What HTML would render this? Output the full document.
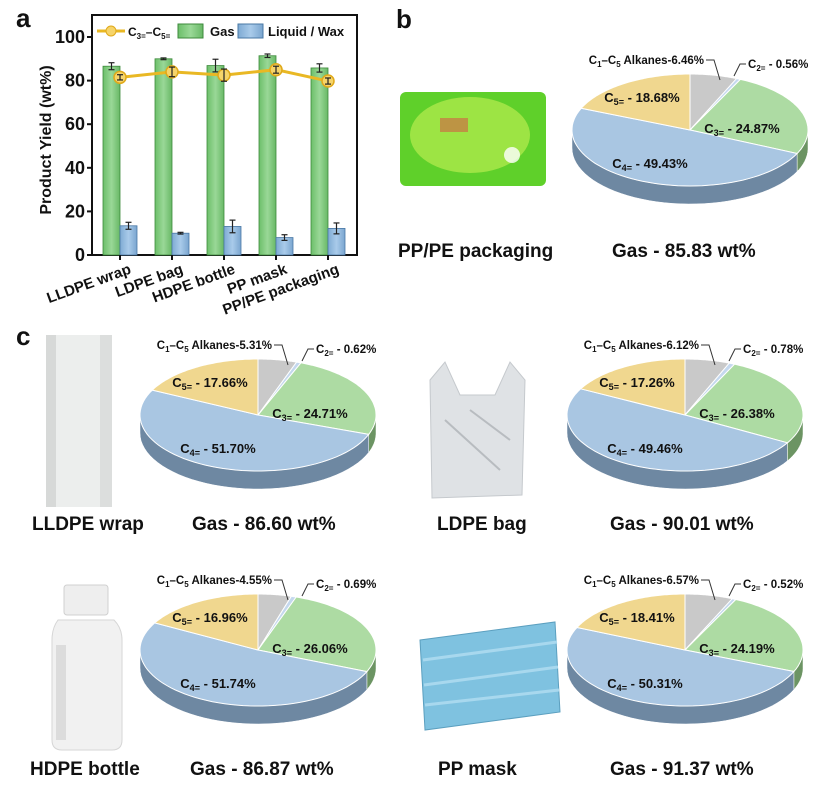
<!DOCTYPE html>
<html><head><meta charset="utf-8"><style>
body{margin:0;background:#fff;width:828px;height:798px;overflow:hidden}
svg text{font-family:"Liberation Sans",Arial,sans-serif;font-weight:bold;fill:#111}
</style></head><body>
<svg id="fig" width="828" height="798" viewBox="0 0 828 798" xmlns="http://www.w3.org/2000/svg">
<defs>
<linearGradient id="gGas" x1="0" x2="1"><stop offset="0" stop-color="#6cbf6a"/><stop offset="0.5" stop-color="#9ad897"/><stop offset="1" stop-color="#68b866"/></linearGradient>
<linearGradient id="gLiq" x1="0" x2="1"><stop offset="0" stop-color="#7eaad3"/><stop offset="0.5" stop-color="#a9cbea"/><stop offset="1" stop-color="#7aa5cf"/></linearGradient>
</defs>
<g id="panelA"></g>
<g id="pies"></g>
<g>
<text x="16" y="27" font-size="26">a</text>
<text x="396" y="28" font-size="26">b</text>
<text x="16" y="345" font-size="26">c</text>
</g>
<g>
<g>
<rect x="400" y="92" width="146" height="94" rx="6" fill="#5fd02a"/>
<ellipse cx="470" cy="135" rx="60" ry="38" fill="#b8ec50" opacity="0.7"/>
<rect x="440" y="118" width="28" height="14" fill="#d44" opacity="0.5"/>
<circle cx="512" cy="155" r="8" fill="#fff" opacity="0.8"/>
</g>
<g>
<rect x="46" y="335" width="66" height="172" rx="4" fill="#eceeed"/>
<rect x="46" y="335" width="10" height="172" fill="#d7d9d8"/>
<rect x="100" y="335" width="12" height="172" fill="#dcdedd"/>
</g>
<g>
<path d="M430 380 L445 362 L460 395 L495 395 L510 362 L525 380 L522 495 L432 498 Z" fill="#dfe2e5" stroke="#c5c9cd"/>
<path d="M445 420 L500 470 M470 410 L510 440" stroke="#b8bcc0" stroke-width="2"/>
</g>
<g>
<rect x="64" y="585" width="44" height="30" rx="3" fill="#eeeeee" stroke="#d0d0d0"/>
<path d="M58 620 Q52 628 52 640 L52 740 Q52 750 62 750 L112 750 Q122 750 122 740 L122 640 Q122 628 114 620 Z" fill="#f1f1f1" stroke="#d6d6d6"/>
<rect x="56" y="645" width="10" height="95" fill="#dcdcdc"/>
</g>
<g>
<path d="M420 640 L555 622 L560 712 L425 730 Z" fill="#7fc2e0" stroke="#5b9fbf"/>
<path d="M423 660 L557 642 M424 685 L558 667 M425 705 L559 690" stroke="#a8d8ee" stroke-width="3"/>
</g>
</g>
<g font-size="19">
<text x="398" y="257" font-size="19">PP/PE packaging</text>
<text x="612" y="257" font-size="19">Gas - 85.83 wt%</text>
<text x="32" y="530" font-size="19">LLDPE wrap</text>
<text x="192" y="530" font-size="19">Gas - 86.60 wt%</text>
<text x="437" y="530" font-size="19">LDPE bag</text>
<text x="610" y="530" font-size="19">Gas - 90.01 wt%</text>
<text x="30" y="775" font-size="19">HDPE bottle</text>
<text x="190" y="775" font-size="19">Gas - 86.87 wt%</text>
<text x="438" y="775" font-size="19">PP mask</text>
<text x="610" y="775" font-size="19">Gas - 91.37 wt%</text>
</g>
</svg>
<script>
// ---------- Panel a data ----------
const categories = ["LLDPE wrap","LDPE bag","HDPE bottle","PP mask","PP/PE packaging"];
const gasValues = [86.6, 90.0, 86.9, 91.4, 85.8];
const gasErrors = [1.6, 0.4, 2.9, 0.8, 1.9];
const liquidValues = [13.4, 10.0, 13.1, 8.0, 12.2];
const liquidErrors = [1.6, 0.4, 2.9, 1.3, 2.5];
const olefinValues = [81.5, 84.0, 82.5, 85.0, 79.8];
const olefinErrors = [1.2, 2.2, 2.8, 1.6, 1.4];
const yTicks = [0, 20, 40, 60, 80, 100];

// ---------- Pie data ----------
const pieNames = ["PP/PE packaging","LLDPE wrap","LDPE bag","HDPE bottle","PP mask"];
const alkanes = [6.46, 5.31, 6.12, 4.55, 6.57];
const c2 = [0.56, 0.62, 0.78, 0.69, 0.52];
const c3 = [24.87, 24.71, 26.38, 26.06, 24.19];
const c4 = [49.43, 51.70, 49.46, 51.74, 50.31];
const c5 = [18.68, 17.66, 17.26, 16.96, 18.41];

const NS = "http://www.w3.org/2000/svg";
function mk(tag, attrs, parent){const e=document.createElementNS(NS,tag);for(const k in attrs)e.setAttribute(k,attrs[k]);parent.appendChild(e);return e;}

// ---------- Panel a ----------
const A = document.getElementById('panelA');
const X0=92, X1=357, YT=15, YB=255;
const yScale = v => YB - (v/100)*218;
const xCenter = i => 120 + i*52;
const bw = 17;
mk('rect',{x:X0,y:YT,width:X1-X0,height:YB-YT,fill:'none',stroke:'#111','stroke-width':2},A);
yTicks.forEach(t=>{
  const y=yScale(t);
  const tk=mk('line',{x1:X0-5,x2:X0,y1:y,y2:y,stroke:'#111','stroke-width':2},A);
  
  
  const lb=mk('text',{x:X0-7,y:y+6,'text-anchor':'end','font-size':18},A);
  lb.textContent=t;
  
  
});
const yt=mk('text',{transform:'translate(51,140) rotate(-90)','text-anchor':'middle','font-size':16},A);
yt.textContent='Product Yield (wt%)';


function errbar(x,v,e){
  mk('line',{x1:x,x2:x,y1:yScale(v+e),y2:yScale(v-e),stroke:'#222','stroke-width':1.2},A);
  mk('line',{x1:x-3,x2:x+3,y1:yScale(v+e),y2:yScale(v+e),stroke:'#222','stroke-width':1.2},A);
  mk('line',{x1:x-3,x2:x+3,y1:yScale(v-e),y2:yScale(v-e),stroke:'#222','stroke-width':1.2},A);
}
categories.forEach((c,i)=>{
  const xc=xCenter(i);
  const g=mk('rect',{x:xc-bw,y:yScale(gasValues[i]),width:bw,height:YB-yScale(gasValues[i]),fill:'url(#gGas)',stroke:'#3d8a3b','stroke-width':0.8},A);
  
  
  errbar(xc-bw/2,gasValues[i],gasErrors[i]);
  const l=mk('rect',{x:xc,y:yScale(liquidValues[i]),width:bw,height:YB-yScale(liquidValues[i]),fill:'url(#gLiq)',stroke:'#4a78a5','stroke-width':0.8},A);
  
  
  errbar(xc+bw/2,liquidValues[i],liquidErrors[i]);
  mk('line',{x1:xc,x2:xc,y1:YB,y2:YB+5,stroke:'#111','stroke-width':2},A);
  const lab=mk('text',{transform:`translate(${xc+12},${YB+18}) rotate(-20)`,'text-anchor':'end','font-size':15},A);
  lab.textContent=c;
  
  
});
const pts=olefinValues.map((v,i)=>`${xCenter(i)},${yScale(v)}`).join(' ');
const ln=mk('polyline',{points:pts,fill:'none',stroke:'#e9b824','stroke-width':3},A);


olefinValues.forEach((v,i)=>{
  const p=mk('circle',{cx:xCenter(i),cy:yScale(v),r:6,fill:'#f6d46a',stroke:'#e0a91a','stroke-width':1.5},A);
  
  
  errbar(xCenter(i),v,olefinErrors[i]);
});
// legend
const L=mk('g',{},A);


mk('line',{x1:97,x2:125,y1:31,y2:31,stroke:'#e9b824','stroke-width':3},L);
mk('circle',{cx:111,cy:31,r:5,fill:'#f6d46a',stroke:'#e0a91a'},L);
const t1=mk('text',{x:128,y:36,'font-size':12},L);t1.innerHTML='C<tspan font-size="8" dy="3">3=</tspan><tspan dy="-3">–C</tspan><tspan font-size="8" dy="3">5=</tspan>';
mk('rect',{x:178,y:24,width:25,height:14,fill:'url(#gGas)',stroke:'#3d8a3b'},L);
const t2=mk('text',{x:210,y:36,'font-size':13},L);t2.textContent='Gas';
mk('rect',{x:238,y:24,width:25,height:14,fill:'url(#gLiq)',stroke:'#4a78a5'},L);
const t3=mk('text',{x:268,y:36,'font-size':13},L);t3.textContent='Liquid / Wax';

// ---------- Pies ----------
const P=document.getElementById('pies');
const centers=[[690,130],[258,415],[685,415],[258,650],[685,650]];
const topCol=['#c9c9c9','#c4d8ee','#addba3','#a9c6e2','#f0d78f'];
const sideCol=['#8f8f8f','#8aa0b8','#6c9463','#6e88a2','#b49c58'];
const RX=118, RY=56, DEPTH=18;
function pt(cx,cy,a,dy){return [cx+RX*Math.sin(a), cy-RY*Math.cos(a)+(dy||0)];}
function drawPie(k){
  const [cx,cy]=centers[k];
  const vals=[alkanes[k],c2[k],c3[k],c4[k],c5[k]];
  const tot=vals.reduce((a,b)=>a+b,0);
  const G=mk('g',{},P);
  
  
  let acc=0; const angs=[];
  vals.forEach(v=>{const a0=acc/tot*2*Math.PI; acc+=v; angs.push([a0,acc/tot*2*Math.PI]);});
  angs.forEach(([a0,a1],j)=>{
    const s=Math.max(a0,Math.PI/2), e=Math.min(a1,3*Math.PI/2);
    if(e<=s) return;
    let d=''; const N=40;
    for(let n=0;n<=N;n++){const a=s+(e-s)*n/N;const p=pt(cx,cy,a);d+=(n?'L':'M')+p[0].toFixed(1)+' '+p[1].toFixed(1);}
    for(let n=N;n>=0;n--){const a=s+(e-s)*n/N;const p=pt(cx,cy,a,DEPTH);d+='L'+p[0].toFixed(1)+' '+p[1].toFixed(1);}
    const sd=mk('path',{d:d+'Z',fill:sideCol[j],stroke:'#fff','stroke-width':0.5},G);
    
    
  });
  angs.forEach(([a0,a1],j)=>{
    let d=`M${cx} ${cy}`; const N=60;
    for(let n=0;n<=N;n++){const a=a0+(a1-a0)*n/N;const p=pt(cx,cy,a);d+='L'+p[0].toFixed(1)+' '+p[1].toFixed(1);}
    const sl=mk('path',{d:d+'Z',fill:topCol[j],stroke:'#fff','stroke-width':1},G);
    
    
  });
  const sub=(base,s,rest,x,y,fs,anchor)=>{const t=mk('text',{x:x,y:y,'font-size':fs,'text-anchor':anchor||'middle'},G);t.innerHTML=`${base}<tspan font-size="${fs*0.7}" dy="3">${s}</tspan><tspan dy="-3">${rest}</tspan>`;return t;};
  sub('C','5=',' - '+c5[k].toFixed(2)+'%',cx-48,cy-28,13);
  sub('C','3=',' - '+c3[k].toFixed(2)+'%',cx+52,cy+3,13);
  sub('C','4=',' - '+c4[k].toFixed(2)+'%',cx-40,cy+38,13);
  const al=mk('text',{x:cx+14,y:cy-66,'font-size':11.5,'text-anchor':'end'},G);
  al.innerHTML=`C<tspan font-size="8" dy="3">1</tspan><tspan dy="-3">–C</tspan><tspan font-size="8" dy="3">5</tspan><tspan dy="-3"> Alkanes-${alkanes[k].toFixed(2)}%</tspan>`;
  
  
  mk('polyline',{points:`${cx+16},${cy-70} ${cx+24},${cy-70} ${cx+30},${cy-50}`,fill:'none',stroke:'#333','stroke-width':1},G);
  sub('C','2=',' - '+c2[k].toFixed(2)+'%',cx+58,cy-62,11.5,'start');
  mk('polyline',{points:`${cx+56},${cy-66} ${cx+50},${cy-66} ${cx+44},${cy-54}`,fill:'none',stroke:'#333','stroke-width':1},G);
}
for(let k=0;k<5;k++) drawPie(k);
</script>
</body></html>
